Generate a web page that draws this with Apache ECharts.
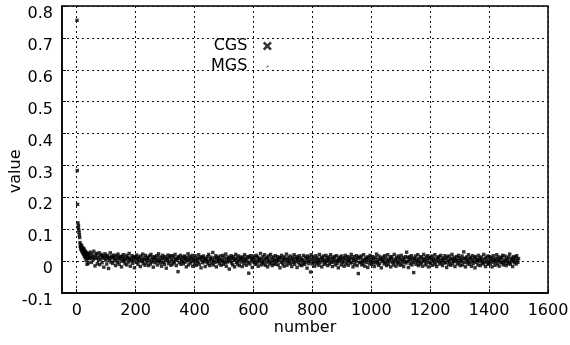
<!DOCTYPE html>
<html>
<head>
<meta charset="utf-8">
<script src="https://cdn.jsdelivr.net/npm/echarts@6/dist/echarts.min.js"></script>
<style>
html,body{margin:0;padding:0;background:#fff;}
#chart{width:570px;height:345px;}
</style>
</head>
<body>
<div id="chart"></div>
<script>
// ---- data (values in thousandths) ----
var seriesNames = ['CGS', 'MGS'];
var xTicks = [0, 200, 400, 600, 800, 1000, 1200, 1400, 1600];
var yMin = -0.1, yMax = 0.8, yStep = 0.1;
var xMin = -50, xMax = 1600;

// MGS values for number = 1..41
var earlyValues = [755, 284, 178, 120, 105, 112, 98, 90, 82, 74,
  58, 46, 52, 38, 44, 35, 49, 30, 42, 26,
  38, 33, 21, 40, 28, 15, 34, 24, 10, 30,
  18, 2, 26, 12, -10, 22, 8, 16, -6, 24, 11];

// MGS values for number = 42, 44, 46, ... 1500
var bandStart = 42, bandStep = 2;
var bandValues = [
18,8,28,11,-4,22,14,5,31,10,-15,19,9,24,-8,13,4,26,-11,16,
6,21,-5,12,17,-19,9,23,3,14,-9,18,8,-23,12,4,26,-3,15,10,
-7,13,19,1,9,-14,17,5,-4,22,12,-10,8,15,0,-18,14,6,20,-1,
10,-8,4,18,-12,8,13,-3,24,5,-16,9,1,17,-7,12,3,-21,14,8,
-4,19,6,-10,13,0,9,-17,16,4,-1,22,-8,10,5,-13,18,3,-5,12,
8,-14,1,16,-9,21,4,-3,12,-19,6,14,-5,9,0,17,-12,5,23,-1,
13,-6,3,-16,10,18,-4,8,-10,14,1,-22,9,4,19,-8,12,-1,16,-13,
5,17,-9,0,12,-4,21,6,-14,3,10,-33,14,-5,8,18,-10,4,-1,13,
-8,9,16,-3,6,-18,12,1,23,-12,4,14,-6,9,-1,18,-16,8,3,-9,
17,0,-13,10,5,-4,20,-10,8,13,-21,3,12,-5,16,-1,6,-17,9,4,
-3,14,-9,21,1,-14,8,12,-6,4,27,-12,0,10,-4,17,-18,6,13,-1,
9,-8,3,16,-13,5,-1,18,-10,12,1,-5,22,-16,8,-3,13,4,-25,10,
0,17,-6,9,-12,14,3,-18,6,21,-4,10,-9,1,16,-14,5,12,-3,8,
-17,13,4,-8,20,-1,9,-13,3,14,-5,-38,12,-9,17,0,8,-20,5,16,
-4,10,-10,1,18,-6,13,-16,4,9,-1,24,-12,6,-4,14,-8,3,20,-13,
8,-3,12,-18,5,16,-9,0,21,-5,10,-14,4,13,-8,1,17,-10,6,-1,
14,-12,3,9,-21,12,-4,18,1,-9,8,-16,13,5,-3,22,-13,4,10,-6,
0,16,-8,6,-17,12,3,-4,20,-10,8,-1,14,-20,5,10,-5,17,-12,1,
9,-14,4,-6,18,0,-10,13,-3,8,-22,16,3,-8,12,-1,-34,20,5,-9,
14,-4,8,-16,1,17,-8,10,-3,5,-13,21,-5,3,12,-18,9,0,16,-10,
4,-6,18,-1,10,-14,6,13,-9,1,20,-4,8,-17,12,-3,5,14,-12,0,
17,-8,3,-21,9,-1,13,5,-12,16,-5,8,0,-16,10,18,-9,4,-3,14,
-13,6,1,12,-6,21,-4,9,-18,3,14,-10,5,-1,17,-14,8,-39,13,-5,
10,-3,16,-12,4,-8,20,0,-16,9,6,-4,13,-20,3,12,-9,18,-1,5,
-10,14,-5,8,-17,1,12,-6,22,-3,5,-13,16,-8,4,10,-21,6,-1,13,
3,-9,17,-4,9,-14,0,20,-10,5,-1,13,-18,8,14,-5,3,-12,21,-3,
6,-16,12,1,-8,16,-4,9,-13,4,18,-9,0,10,-17,6,-3,14,-6,28,
-1,12,-20,5,13,-8,3,17,-12,8,-4,-36,9,1,16,-10,5,-3,20,-14,
8,0,-9,14,-5,10,-16,4,21,-1,6,-12,13,-6,3,17,-18,9,-4,12,
-8,5,16,-13,1,9,-3,20,-10,4,-17,12,-1,8,14,-9,0,18,-5,6,
-14,10,3,-6,17,-4,8,-20,13,1,-10,16,-3,5,-13,9,21,-8,4,-1,
12,-17,6,0,14,-9,3,18,-5,10,-14,4,-1,16,-12,8,29,-4,9,-18,
5,13,-6,1,20,-10,8,-3,12,-16,4,17,-8,0,10,-21,14,-4,6,3,
-12,18,-1,9,-14,5,13,-5,3,-9,21,-3,8,-17,12,1,-6,16,-10,4,
14,-8,0,10,-18,6,17,-4,3,-13,9,-1,20,-9,5,13,-16,1,8,-5,
12,-3,18,-12,4,-6,16,0,-14,9,3,-8,13,-4,22,-10,6,-1,10,-17,
5,14,-5,1,12,-9,17,3,-4,8
];

// ---- build series data ----
var mgsData = [];
earlyValues.forEach(function (v, i) { mgsData.push([i + 1, v / 1000]); });
bandValues.forEach(function (v, i) { mgsData.push([bandStart + i * bandStep, v / 1000]); });

var FONT = 'DejaVu Sans';
var crossIcon = 'path://M0,2 L2,0 L5,3 L8,0 L10,2 L7,5 L10,8 L8,10 L5,7 L2,10 L0,8 L3,5 Z';
var slashIcon = 'path://M0,0 L0.05,0 L0.05,0.05 Z M10,10 L9.95,10 L9.95,9.95 Z M3.7,6.3 L5.9,4.1 L6.6,4.8 L4.4,7.0 Z';

function plainNum(v) {
  var r = Math.round(v * 1000) / 1000;
  return String(r);
}

var chart = echarts.init(document.getElementById('chart'), null, {renderer: 'canvas'});
chart.setOption({
  animation: false,
  backgroundColor: '#fff',
  textStyle: {fontFamily: FONT},
  grid: {left: 62, top: 6, right: 22, bottom: 52, show: true, borderColor: '#000', borderWidth: 1.5,
         containLabel: false, outerBoundsMode: 'none'},
  legend: {
    show: true,
    selectedMode: false,
    orient: 'vertical',
    align: 'right',
    left: 206,
    top: 33,
    itemWidth: 30,
    itemHeight: 9,
    itemGap: 4,
    textStyle: {fontFamily: FONT, fontSize: 16, color: '#000'},
    data: [
      {name: seriesNames[0], icon: crossIcon, itemStyle: {color: '#000'}},
      {name: seriesNames[1], icon: slashIcon, itemStyle: {color: '#000'}}
    ]
  },
  xAxis: {
    type: 'value',
    min: xMin,
    max: xMax,
    name: 'number',
    nameLocation: 'middle',
    nameGap: 27,
    nameMoveOverlap: false,
    nameTextStyle: {fontFamily: FONT, fontSize: 16, color: '#000'},
    axisLine: {show: true, onZero: false, lineStyle: {color: '#000', width: 1.5}},
    axisTick: {show: true, inside: true, length: 4, customValues: xTicks, lineStyle: {color: '#000'}},
    axisLabel: {customValues: xTicks, formatter: plainNum, fontFamily: FONT, fontSize: 16, color: '#000', margin: 10},
    splitLine: {show: true, lineStyle: {color: '#111', type: [2, 3], width: 1}}
  },
  yAxis: {
    type: 'value',
    min: yMin,
    max: yMax,
    interval: yStep,
    name: 'value',
    nameLocation: 'middle',
    nameGap: 38,
    nameMoveOverlap: false,
    nameTextStyle: {fontFamily: FONT, fontSize: 16, color: '#000', align: 'right'},
    axisLine: {show: true, onZero: false, lineStyle: {color: '#000', width: 1.5}},
    axisTick: {show: true, inside: true, length: 4, lineStyle: {color: '#000'}},
    axisLabel: {formatter: plainNum, fontFamily: FONT, fontSize: 16, color: '#000', margin: 9,
                verticalAlign: 'top'},
    splitLine: {show: true, lineStyle: {color: '#111', type: [2, 3], width: 1}}
  },
  series: [
    {
      name: seriesNames[0],
      type: 'scatter',
      symbol: crossIcon,
      symbolSize: 8,
      itemStyle: {color: '#000'},
      data: []
    },
    {
      name: seriesNames[1],
      type: 'scatter',
      symbol: 'rect',
      symbolSize: 3.4,
      itemStyle: {color: '#000'},
      data: mgsData
    }
  ]
});
</script>
</body>
</html>
